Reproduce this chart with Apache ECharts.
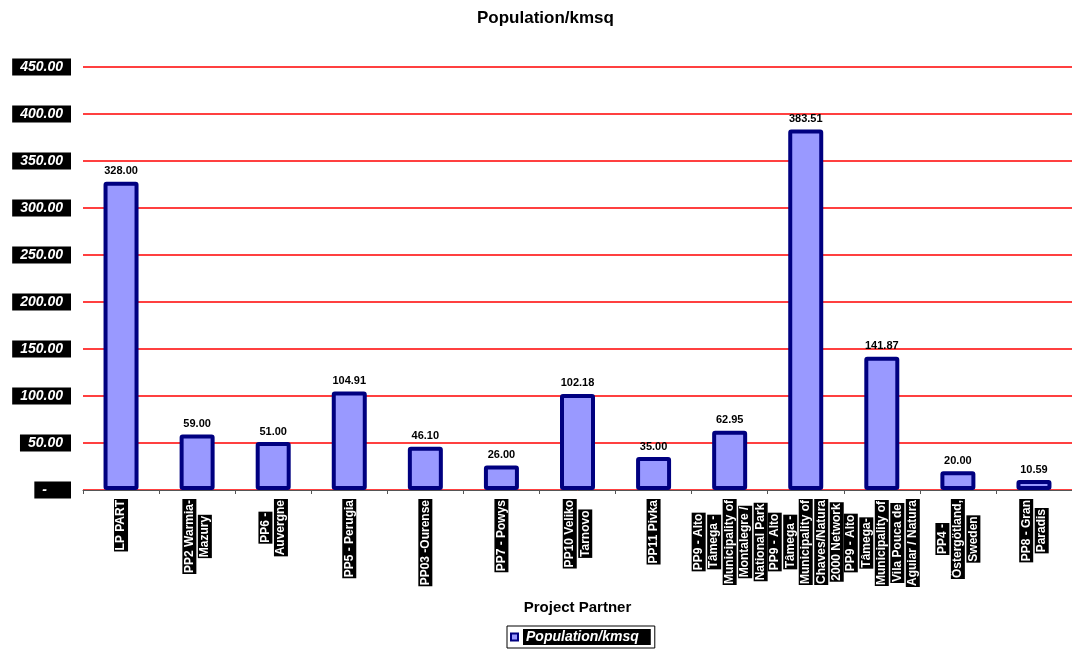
<!DOCTYPE html>
<html>
<head>
<meta charset="utf-8">
<script src="https://cdn.jsdelivr.net/npm/echarts@6/dist/echarts.min.js"></script>
<style>
  html, body { margin: 0; padding: 0; background: #fff; }
  #chart { width: 1072px; height: 651px; }
</style>
</head>
<body>
<div id="chart"></div>
<script>
// Project partners (line breaks as in the original wrapped axis labels)
const categories = [
  'LP PART',
  'PP2 Warmia-\nMazury',
  'PP6 -\nAuvergne',
  'PP5 - Perugia',
  'PP03 -Ourense',
  'PP7 - Powys',
  'PP10 Veliko\nTarnovo',
  'PP11 Pivka',
  'PP9 - Alto\nTâmega -\nMunicipality of\nMontalegre /\nNational Park',
  'PP9 - Alto\nTâmega -\nMunicipality of\nChaves/Natura\n2000 Network',
  'PP9 - Alto\nTâmega-\nMunicipality of\nVila Pouca de\nAguiar / Natura',
  'PP4 -\nÖstergötland,\nSweden',
  'PP8 - Gran\nParadis'
];
const density = [328.00, 59.00, 51.00, 104.91, 46.10, 26.00, 102.18, 35.00, 62.95, 383.51, 141.87, 20.00, 10.59];
const seriesName = 'Population/kmsq';
const yMin = 0;
const yMax = 450;
const yStep = 50;

const FONT = 'Liberation Sans, Arial, sans-serif';

const chart = echarts.init(document.getElementById('chart'), null, { renderer: 'canvas' });

chart.setOption({
  animation: false,
  backgroundColor: '#ffffff',
  textStyle: { fontFamily: FONT },
  title: {
    text: 'Population/kmsq',
    left: 472,
    top: 5,
    textStyle: { fontFamily: FONT, fontSize: 17, fontWeight: 'bold', color: '#000' }
  },
  grid: { left: 83, top: 67, width: 997, height: 423, containLabel: false },
  legend: {
    left: 507,
    top: 626,
    orient: 'horizontal',
    padding: [3, 4, 3, 3],
    borderColor: '#000',
    borderWidth: 1,
    itemWidth: 7,
    itemHeight: 7,
    icon: 'rect',
    data: [{
      name: seriesName,
      itemStyle: { color: '#9999FF', borderColor: '#000080', borderWidth: 2 }
    }],
    textStyle: {
      fontFamily: FONT,
      fontSize: 14,
      fontWeight: 'bold',
      fontStyle: 'italic',
      color: '#fff',
      backgroundColor: '#000',
      padding: [1, 12, 1, 3]
    }
  },
  xAxis: {
    type: 'category',
    data: categories,
    name: 'Project Partner',
    nameLocation: 'middle',
    nameGap: 110,
    nameTextStyle: { fontFamily: FONT, fontSize: 15, fontWeight: 'bold', color: '#000' },
    axisLine: { lineStyle: { color: '#555', width: 1 } },
    axisTick: { show: true, length: 4, lineStyle: { color: '#555' } },
    axisLabel: {
      interval: 0,
      rotate: 90,
      margin: 9,
      hideOverlap: false,
      formatter: function (v) {
        return v.split('\n').map(function (s) { return '{l|' + s + '}'; }).join('\n');
      },
      rich: {
        l: {
          fontFamily: FONT,
          fontSize: 12,
          fontWeight: 'bold',
          color: '#fff',
          backgroundColor: '#000',
          align: 'center',
          lineHeight: 15.5,
          height: 14,
          padding: [0, 1]
        }
      }
    },
    splitLine: { show: false }
  },
  yAxis: {
    type: 'value',
    min: yMin,
    max: yMax,
    interval: yStep,
    axisLine: { show: false },
    axisTick: { show: false },
    splitLine: { show: true, lineStyle: { color: '#FF0000', width: 1.6 } },
    axisLabel: {
      margin: 12,
      formatter: function (v) {
        return v === 0 ? '{z|-}' : '{v|' + v.toFixed(2) + '}';
      },
      rich: {
        v: {
          fontFamily: FONT, fontSize: 14, fontWeight: 'bold', fontStyle: 'italic',
          color: '#fff', backgroundColor: '#000', padding: [2, 8, 1, 8]
        },
        z: {
          fontFamily: FONT, fontSize: 14, fontWeight: 'bold', fontStyle: 'italic',
          color: '#fff', backgroundColor: '#000', padding: [2, 24, 1, 8]
        }
      }
    }
  },
  series: [{
    name: seriesName,
    type: 'bar',
    data: density,
    barWidth: 35,
    itemStyle: {
      color: '#9999FF',
      borderColor: '#000080',
      borderWidth: 4,
      borderRadius: 1
    },
    label: {
      show: true,
      position: 'top',
      distance: 5,
      fontFamily: FONT,
      fontSize: 11,
      fontWeight: 'bold',
      color: '#000',
      formatter: function (p) { return p.value.toFixed(2); }
    }
  }]
});
</script>
</body>
</html>
